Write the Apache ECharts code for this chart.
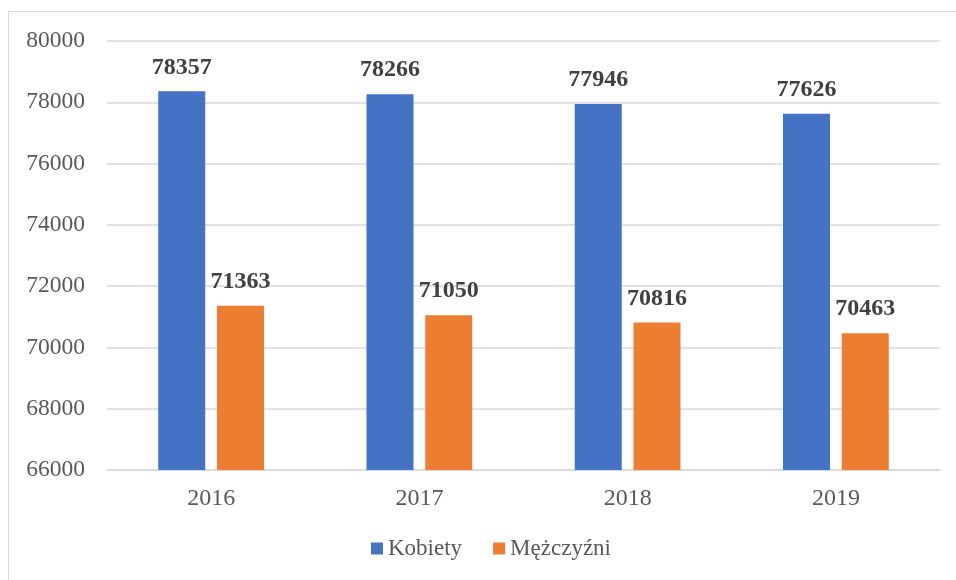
<!DOCTYPE html>
<html>
<head>
<meta charset="utf-8">
<script src="https://cdn.jsdelivr.net/npm/echarts@6/dist/echarts.min.js"></script>
<style>
  html, body { margin: 0; padding: 0; background: #fff; }
  #frame { position: absolute; left: 8px; top: 11px; width: 960px; height: 575px; border: 1px solid #d9d9d9; box-sizing: border-box; }
  #chart { width: 956px; height: 580px; }
</style>
</head>
<body>
<div id="frame"></div>
<div id="chart"></div>
<script>
const years = ["2016", "2017", "2018", "2019"];
const kobiety = [78357, 78266, 77946, 77626];
const mezczyzni = [71363, 71050, 70816, 70463];

const font = "Liberation Serif";

const chart = echarts.init(document.getElementById("chart"));

const labelStyle = {
  show: true,
  position: "top",
  distance: 12,
  fontFamily: font,
  fontSize: 24,
  fontWeight: "bold",
  color: "#404040",
};

chart.setOption({
  animation: false,
  textStyle: { fontFamily: font },
  grid: { left: 107, right: 16, top: 41, bottom: 110 },
  legend: {
    bottom: 15,
    left: 366,
    itemWidth: 12,
    itemHeight: 12,
    itemGap: 31,
    icon: "rect",
    textStyle: { fontFamily: font, fontSize: 23, color: "#595959" },
    data: ["Kobiety", "Mężczyźni"],
  },
  xAxis: {
    type: "category",
    data: years,
    axisLine: { lineStyle: { color: "#d9d9d9", width: 1.5 } },
    axisTick: { show: false },
    axisLabel: { fontFamily: font, fontSize: 24, color: "#595959", margin: 17 },
  },
  yAxis: {
    type: "value",
    min: 66000,
    max: 80000,
    interval: 2000,
    axisLine: { show: false },
    axisTick: { show: false },
    splitLine: { lineStyle: { color: "#d9d9d9", width: 1.5 } },
    axisLabel: {
      fontFamily: font,
      fontSize: 23.5,
      color: "#595959",
      margin: 22,
      formatter: (v) => String(v),
    },
  },
  series: [
    {
      name: "Kobiety",
      type: "bar",
      data: kobiety,
      barWidth: 47,
      barGap: "25%",
      itemStyle: { color: "#4472c4" },
      label: labelStyle,
    },
    {
      name: "Mężczyźni",
      type: "bar",
      data: mezczyzni,
      barWidth: 47,
      itemStyle: { color: "#ed7d31" },
      label: labelStyle,
    },
  ],
});
</script>
</body>
</html>
